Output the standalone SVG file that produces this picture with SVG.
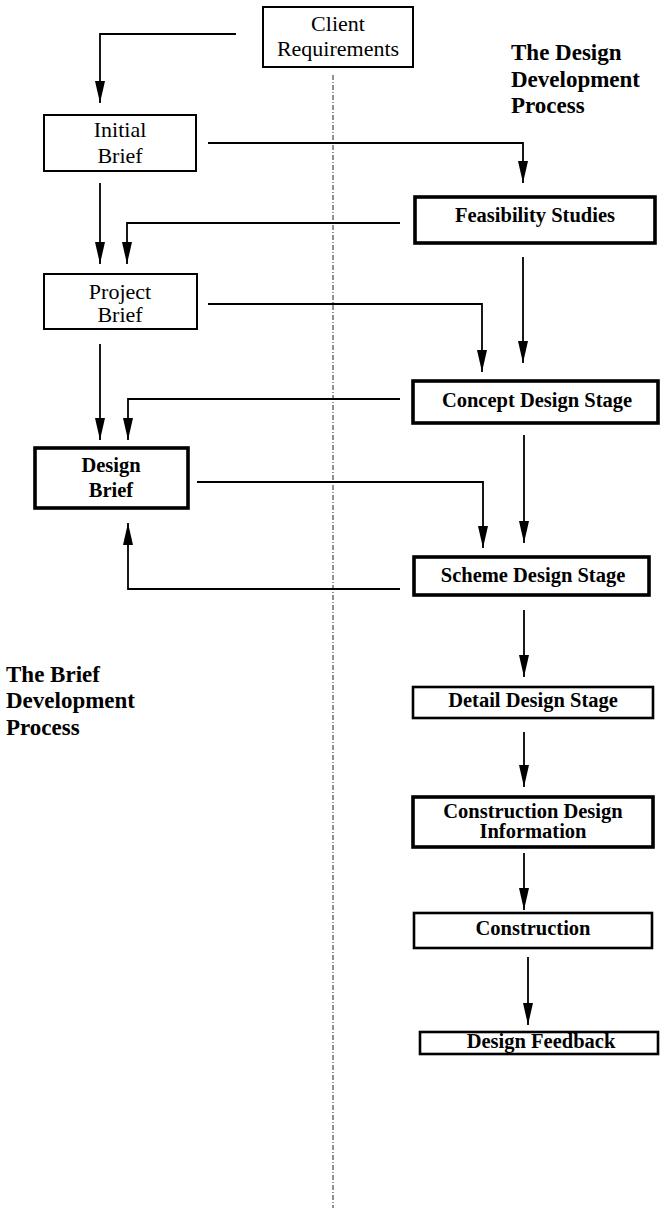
<svg xmlns="http://www.w3.org/2000/svg" width="661" height="1214" viewBox="0 0 661 1214">
  <style>
    .box { fill: #fff; stroke: #000; }
    .thin { stroke-width: 2; }
    .mid { stroke-width: 2.6; }
    .thick { stroke-width: 3.6; }
    .reg { font-family: "Liberation Serif", "Times New Roman", serif; font-size: 22px; fill: #000; text-anchor: middle; }
    .bold { font-family: "Liberation Serif", "Times New Roman", serif; font-size: 20.5px; font-weight: bold; fill: #000; text-anchor: middle; }
    .title { font-family: "Liberation Serif", "Times New Roman", serif; font-size: 23px; font-weight: bold; fill: #000; }
    .conn { fill: none; stroke: #000; stroke-width: 1.8; marker-end: url(#arrow); }
    .divider { fill: none; stroke: #222; stroke-width: 1; stroke-dasharray: 5 2 1 2; }
  </style>
  <defs>
    <marker id="arrow" markerUnits="userSpaceOnUse" markerWidth="22" markerHeight="10" refX="22" refY="5" orient="auto">
      <path d="M0,0 L22,5 L0,10 Z" fill="#000"/>
    </marker>
  </defs>

  <rect width="661" height="1214" fill="#fff"/>

  <!-- divider between brief and design processes -->
  <line class="divider" x1="333" y1="75" x2="333" y2="1208"/>

  <!-- section titles -->
  <text class="title" x="511" y="60">The Design</text>
  <text class="title" x="511" y="87">Development</text>
  <text class="title" x="511" y="113">Process</text>

  <text class="title" x="6" y="682">The Brief</text>
  <text class="title" x="6" y="708">Development</text>
  <text class="title" x="6" y="735">Process</text>

  <!-- connectors -->
  <g id="connectors">
    <path class="conn" d="M236,34 H100 V103"/>
    <path class="conn" d="M208,143 H523 V183"/>
    <path class="conn" d="M100,183 V264"/>
    <path class="conn" d="M400,223 H127 V264"/>
    <path class="conn" d="M523,257 V363"/>
    <path class="conn" d="M208,304 H482 V372"/>
    <path class="conn" d="M100,344 V440"/>
    <path class="conn" d="M400,399 H128 V440"/>
    <path class="conn" d="M524,435 V543"/>
    <path class="conn" d="M197,482 H483 V548"/>
    <path class="conn" d="M400,589 H128 V523"/>
    <path class="conn" d="M524,610 V677"/>
    <path class="conn" d="M524,732 V787"/>
    <path class="conn" d="M524,853 V910"/>
    <path class="conn" d="M528,957 V1025"/>
  </g>

  <!-- brief development nodes -->
  <g id="client-requirements">
    <rect class="box thin" x="263" y="7" width="150" height="60"/>
    <text class="reg" x="338" y="31">Client</text>
    <text class="reg" x="338" y="56">Requirements</text>
  </g>
  <g id="initial-brief">
    <rect class="box thin" x="44" y="115" width="152" height="56"/>
    <text class="reg" x="120" y="137">Initial</text>
    <text class="reg" x="120" y="163">Brief</text>
  </g>
  <g id="project-brief">
    <rect class="box thin" x="44" y="274" width="153" height="55"/>
    <text class="reg" x="120" y="299">Project</text>
    <text class="reg" x="120" y="322">Brief</text>
  </g>
  <g id="design-brief">
    <rect class="box thick" x="35" y="448" width="153" height="60"/>
    <text class="bold" x="111" y="472">Design</text>
    <text class="bold" x="111" y="497">Brief</text>
  </g>

  <!-- design development nodes -->
  <g id="feasibility-studies">
    <rect class="box thick" x="415" y="197" width="240" height="46"/>
    <text class="bold" x="535" y="222">Feasibility Studies</text>
  </g>
  <g id="concept-design-stage">
    <rect class="box thick" x="413" y="381" width="245" height="42"/>
    <text class="bold" x="537" y="407">Concept Design Stage</text>
  </g>
  <g id="scheme-design-stage">
    <rect class="box thick" x="414" y="557" width="235" height="38"/>
    <text class="bold" x="533" y="582">Scheme Design Stage</text>
  </g>
  <g id="detail-design-stage">
    <rect class="box mid" x="413" y="687" width="240" height="31"/>
    <text class="bold" x="533" y="707">Detail Design Stage</text>
  </g>
  <g id="construction-design-information">
    <rect class="box thick" x="413" y="797" width="240" height="50"/>
    <text class="bold" x="533" y="818">Construction Design</text>
    <text class="bold" x="533" y="838">Information</text>
  </g>
  <g id="construction">
    <rect class="box mid" x="414" y="913" width="238" height="35"/>
    <text class="bold" x="533" y="935">Construction</text>
  </g>
  <g id="design-feedback">
    <rect class="box mid" x="420" y="1032" width="238" height="22"/>
    <text class="bold" x="541" y="1048">Design Feedback</text>
  </g>
</svg>
